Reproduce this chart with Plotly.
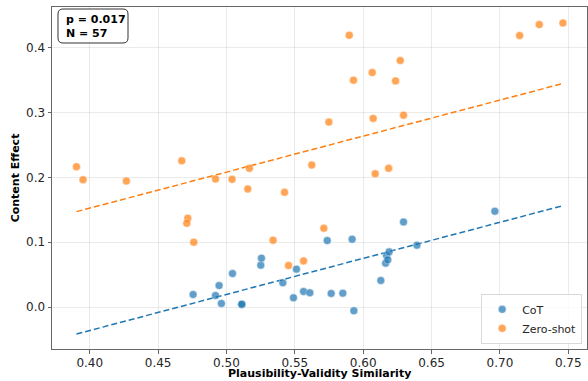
import plotly.graph_objects as go

# ---- data ----
cot_x = [0.4756, 0.4920, 0.4946, 0.4963, 0.5044, 0.5112, 0.5112, 0.5251, 0.5256,
         0.5412, 0.5490, 0.5512, 0.5564, 0.5610, 0.5737, 0.5766, 0.5851, 0.5919,
         0.5932, 0.6129, 0.6164, 0.6171, 0.6180, 0.6190, 0.6295, 0.6393, 0.6963]
cot_y = [0.0194, 0.0178, 0.0332, 0.0055, 0.0517, 0.0040, 0.0045, 0.0646, 0.0754,
         0.0374, 0.0143, 0.0585, 0.0240, 0.0220, 0.1025, 0.0210, 0.0215, 0.1046,
         -0.0057, 0.0410, 0.0677, 0.0794, 0.0728, 0.0851, 0.1312, 0.0954, 0.1477]

zs_x = [0.3903, 0.3951, 0.4268, 0.4673, 0.4717, 0.4710, 0.4761, 0.4920, 0.5041,
        0.5168, 0.5156, 0.5425, 0.5624, 0.5712, 0.5341, 0.5454, 0.5564, 0.5898,
        0.6271, 0.6066, 0.5929, 0.6237, 0.5749, 0.6073, 0.6295, 0.6088, 0.6186,
        0.7144, 0.7288, 0.7461]
zs_y = [0.2163, 0.1963, 0.1943, 0.2255, 0.1369, 0.1292, 0.1000, 0.1974, 0.1969,
        0.2138, 0.1820, 0.1769, 0.2189, 0.1215, 0.1031, 0.0640, 0.0712, 0.4189,
        0.3800, 0.3615, 0.3497, 0.3486, 0.2851, 0.2908, 0.2958, 0.2055, 0.2138,
        0.4185, 0.4354, 0.4378]

# fitted trend lines (model predictions, shared slope)
fit_x = [0.3903, 0.7461]
cot_fit_y = [-0.0415, 0.1563]
zs_fit_y = [0.1471, 0.3446]

x_title = "Plausibility-Validity Similarity"
y_title = "Content Effect"
p_text = "p = 0.017"
n_text = "N = 57"

BLUE = "#1f77b4"
ORANGE = "#ff7f0e"
FONT = "DejaVu Sans"
DASH = "6px,3px"

fig = go.Figure()
fig.add_trace(go.Scatter(x=fit_x, y=cot_fit_y, mode="lines", showlegend=False,
                         line=dict(color=BLUE, width=1.5, dash=DASH), hoverinfo="skip"))
fig.add_trace(go.Scatter(x=fit_x, y=zs_fit_y, mode="lines", showlegend=False,
                         line=dict(color=ORANGE, width=1.5, dash=DASH), hoverinfo="skip"))
fig.add_trace(go.Scatter(x=cot_x, y=cot_y, mode="markers", name="CoT",
                         marker=dict(color=BLUE, size=8, opacity=0.7,
                                     line=dict(color="white", width=0.5))))
fig.add_trace(go.Scatter(x=zs_x, y=zs_y, mode="markers", name="Zero-shot",
                         marker=dict(color=ORANGE, size=8, opacity=0.7,
                                     line=dict(color="white", width=0.5))))

axis_common = dict(
    automargin=False,
    showgrid=True, gridcolor="rgba(0,0,0,0.08)", gridwidth=1,
    zeroline=False, showline=True, linecolor="#666666", linewidth=1, mirror=True,
    ticks="outside", ticklen=3.5, tickwidth=1, tickcolor="#666666",
    tickfont=dict(family=FONT, size=12, color="#262626"),
)
fig.update_xaxes(range=[0.3724, 0.7637], tickvals=[0.40, 0.45, 0.50, 0.55, 0.60, 0.65, 0.70, 0.75],
                 tickformat=".2f", ticklabelstandoff=-1, **axis_common)
fig.update_yaxes(range=[-0.0646, 0.4625], tickvals=[0.0, 0.1, 0.2, 0.3, 0.4], tickformat=".1f",
                 title=dict(text=f"<b>{y_title}</b>", standoff=4,
                            font=dict(family=FONT, size=11, color="black")),
                 **axis_common)

W, H = 588 - 52 - 1, 381 - 7 - 32

# x-axis title as an annotation placed below the tick labels
fig.add_annotation(x=0.5, y=-(373 - 349) / H, xref="paper", yref="paper",
                   xanchor="center", yanchor="middle", showarrow=False,
                   text=f"<b>{x_title}</b>", font=dict(family=FONT, size=11, color="black"))

# rounded stats box
x0, x1, y0, y1, r = 6, 76, 2, 36, 5  # pixels relative to plot area
def P(px, py):
    return f"{px / W:.5f},{1 - py / H:.5f}"
path = (f"M {P(x0+r,y0)} L {P(x1-r,y0)} Q {P(x1,y0)} {P(x1,y0+r)} L {P(x1,y1-r)} "
        f"Q {P(x1,y1)} {P(x1-r,y1)} L {P(x0+r,y1)} Q {P(x0,y1)} {P(x0,y1-r)} "
        f"L {P(x0,y0+r)} Q {P(x0,y0)} {P(x0+r,y0)} Z")
fig.add_shape(type="path", path=path, xref="paper", yref="paper",
              line=dict(color="#333333", width=1), fillcolor="rgba(255,255,255,0.9)", layer="above")
fig.add_annotation(x=12 / W, y=1 - 4 / H, xref="paper", yref="paper", xanchor="left", yanchor="top",
                   text=f"<b>{p_text}</b><br><b>{n_text}</b>", showarrow=False, align="left",
                   font=dict(family=FONT, size=11, color="black"))

fig.update_layout(
    width=588, height=381,
    margin=dict(l=52, r=1, t=7, b=32),
    paper_bgcolor="white", plot_bgcolor="white",
    legend=dict(x=0.991, y=0.015, xanchor="right", yanchor="bottom",
                bgcolor="rgba(255,255,255,0.8)", bordercolor="#d9d9d9", borderwidth=1,
                font=dict(family=FONT, size=11, color="#262626")),
    font=dict(family=FONT),
)
fig.write_html("out.html")
